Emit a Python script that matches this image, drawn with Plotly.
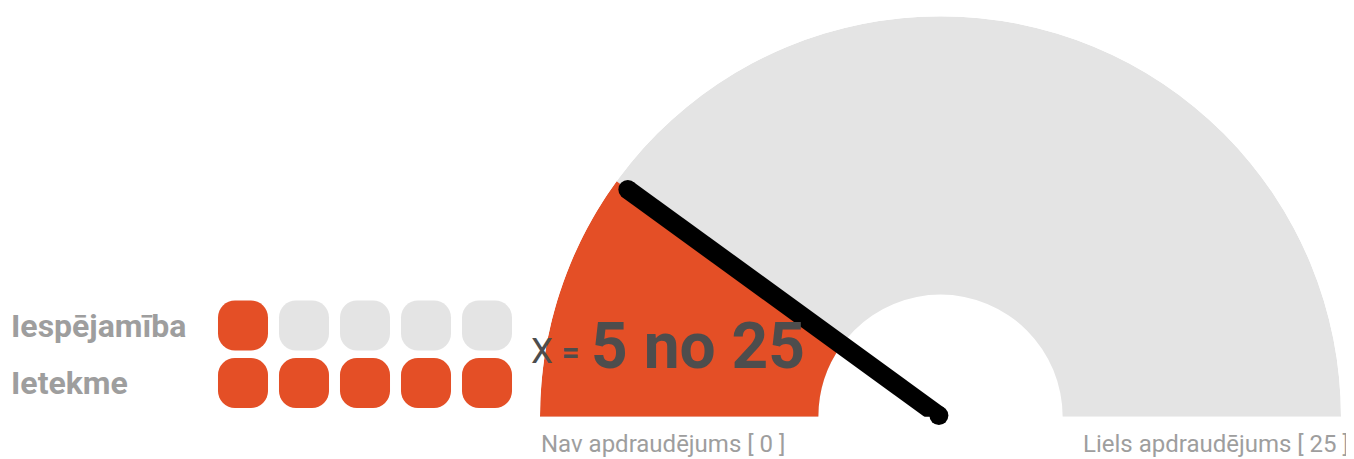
import plotly.graph_objects as go

# ---- data ----
score_max = 25
likelihood = 1
impact = 5
levels = [1, 2, 3, 4, 5]
row_labels = ["Iespējamība", "Ietekme"]
row_values = [likelihood, impact]
score = likelihood * impact
label_min = "Nav apdraudējums [ 0 ]"
label_max = "Liels apdraudējums [ 25 ]"

# ---- style ----
RED = "#E44F26"
GRAY = "#E4E4E4"
LABEL = "#9E9E9E"
DARK = "#4D4D4D"
PAGE_W, PAGE_H = 1354, 459
OFF = 8  # default page body margin
W, H = PAGE_W - OFF, PAGE_H - OFF
HOLE = 0.305
NEEDLE_W = 19


def px(x):
    return (x - OFF) / W


def py(y):
    return 1 - (y - OFF) / H


def deg(v):
    return v / score_max * 180.0


fig = go.Figure()

# gauge background and value sector
fig.add_trace(go.Barpolar(
    r=[1 - HOLE], base=[HOLE], theta=[deg(score_max) / 2], width=[deg(score_max)],
    marker=dict(color=GRAY, line=dict(width=0)), subplot="polar", hoverinfo="skip",
    showlegend=False))
fig.add_trace(go.Barpolar(
    r=[1 - HOLE], base=[HOLE], theta=[deg(score) / 2], width=[deg(score)],
    marker=dict(color=RED, line=dict(width=0)), subplot="polar", hoverinfo="skip",
    showlegend=False))
# needle
fig.add_trace(go.Scatterpolar(
    r=[0.005, 0.965], theta=[deg(score), deg(score)], mode="lines+markers",
    line=dict(color="black", width=NEEDLE_W), marker=dict(color="black", size=NEEDLE_W),
    subplot="polar", hoverinfo="skip", showlegend=False))

# rounded squares
row_y = [1, 0]
SQ_H = 0.87
for lab, val, yc in zip(row_labels, row_values, row_y):
    colors = [RED if lv <= val else GRAY for lv in levels]
    fig.add_trace(go.Bar(
        x=levels, y=[SQ_H] * len(levels), base=[yc - SQ_H / 2] * len(levels), width=0.82,
        marker=dict(color=colors, line=dict(width=0), cornerradius=17),
        hoverinfo="skip", showlegend=False))
    fig.add_annotation(x=px(9), xref="paper", xanchor="left", y=yc, yref="y",
                       yanchor="middle", text=f"<b>{lab}</b>", showarrow=False,
                       font=dict(family="Roboto", size=32, color=LABEL))

# score text
fig.add_annotation(x=px(529), xref="paper", xanchor="left", y=py(351), yref="paper",
                   yanchor="middle", showarrow=False,
                   text="<span style='font-size:35px'>X</span> <b style='font-size:31px'>=</b>",
                   font=dict(family="Roboto", size=35, color=DARK))
fig.add_annotation(x=px(589), xref="paper", xanchor="left", y=py(346), yref="paper",
                   yanchor="middle", showarrow=False,
                   text=f"<b>{score} no {score_max}</b>",
                   font=dict(family="Roboto", size=64, color=DARK))

# range labels
fig.add_annotation(x=px(539), xref="paper", xanchor="left", y=py(444), yref="paper",
                   yanchor="middle", showarrow=False, text=label_min,
                   font=dict(family="Roboto", size=24, color=LABEL))
fig.add_annotation(x=px(1351), xref="paper", xanchor="right", y=py(444), yref="paper",
                   yanchor="middle", showarrow=False, text=label_max,
                   font=dict(family="Roboto", size=24, color=LABEL))

# axes for squares: 1 level = 61 px, 1 row = 57.5 px
step_x, step_y = 61.0, 57.5
x0 = 1 - (243 - OFF) / step_x
y0 = -(PAGE_H - 383) / step_y
fig.update_layout(
    width=W, height=H, margin=dict(l=0, r=0, t=0, b=0),
    paper_bgcolor="white", plot_bgcolor="rgba(0,0,0,0)",
    barmode="overlay",
    xaxis=dict(domain=[0, 1], range=[x0, x0 + W / step_x], visible=False, fixedrange=True),
    yaxis=dict(domain=[0, 1], range=[y0, y0 + H / step_y], visible=False, fixedrange=True),
    polar=dict(
        domain=dict(x=[px(540), px(1341)], y=[py(417), py(16)]),
        sector=[0, 180], hole=0, bgcolor="rgba(0,0,0,0)",
        radialaxis=dict(range=[0, 1], visible=False),
        angularaxis=dict(rotation=180, direction="clockwise", visible=False,
                         thetaunit="degrees"),
    ),
    showlegend=False,
)

fig.write_html("out.html", config={"displayModeBar": False})
